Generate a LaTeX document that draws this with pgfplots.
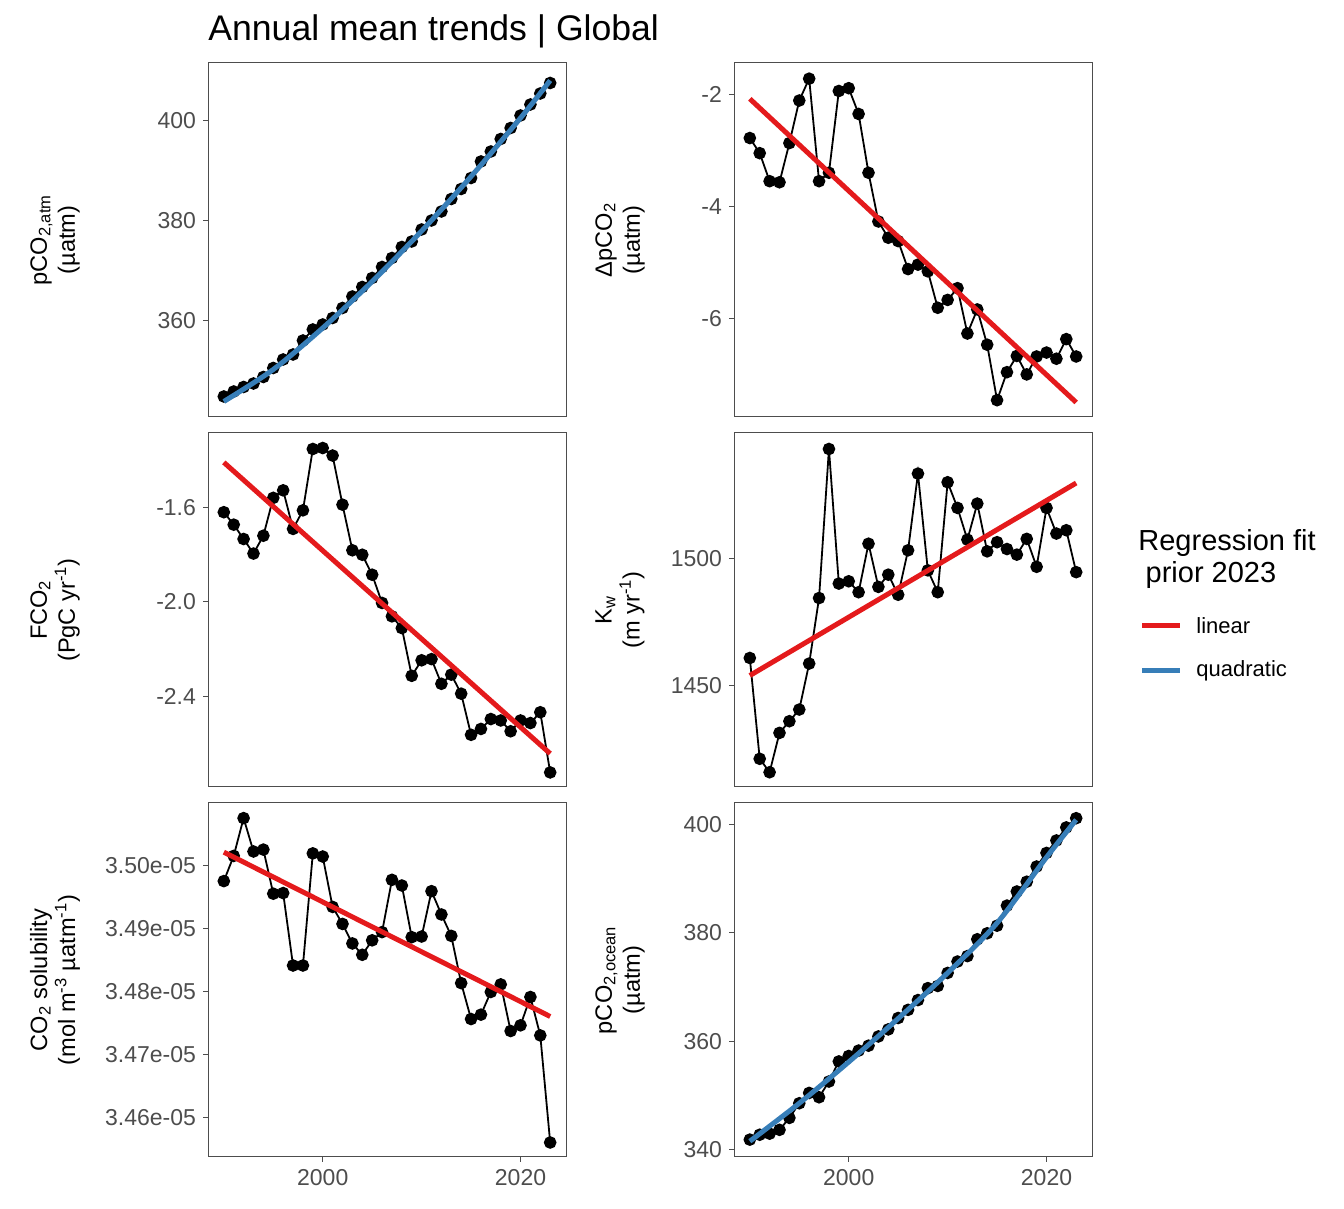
\documentclass[border=0pt]{standalone}
\usepackage{pgfplots}
\pgfplotsset{compat=1.18}
\usepackage{fontspec}
\setmainfont{Liberation Sans}
\definecolor{fitred}{HTML}{E41A1C}
\definecolor{fitblue}{HTML}{377EB8}
\definecolor{axgray}{HTML}{4D4D4D}
\pgfplotsset{panel/.style={scale only axis, width=179pt, height=177pt,
  xmin=1988.4, xmax=2024.6, anchor=north west, clip mode=individual,
  axis line style={axgray, line width=0.5pt},
  tick align=outside, xtick pos=bottom, ytick pos=left,
  tick style={axgray, line width=0.5pt}, major tick length=2.5pt,
  ticklabel style={font=\fontsize{11.5}{13}\selectfont, text=axgray},
  xtick=\empty},
  bottomx/.style={xtick={2000,2020}, xticklabels={2000,2020}},
  obs/.style={black, line width=0.9pt, mark=*, mark size=2.7pt, mark options={solid}},
  lin/.style={fitred, line width=2.5pt, no marks},
  quad/.style={fitblue, line width=2.5pt, no marks, smooth}}
\begin{document}
\begin{tikzpicture}
\path[use as bounding box] (0,0) rectangle (672pt,604.5pt);
\node[anchor=base west, font=\fontsize{17.8}{20}\selectfont, inner sep=0pt] at (104pt,584pt) {Annual mean trends | Global};

% panel 1
\begin{axis}[panel, at={(104pt,573pt)}, ymin=340.8, ymax=411.6,
  ytick={360,380,400}, yticklabels={360,380,400}]
\addplot[obs] coordinates {(1990,344.9)(1991,345.9)(1992,346.8)(1993,347.5)(1994,348.8)(1995,350.6)(1996,352.3)(1997,353.3)(1998,356.1)(1999,358.3)(2000,359.3)(2001,360.6)(2002,362.6)(2003,364.9)(2004,366.8)(2005,368.6)(2006,370.8)(2007,372.6)(2008,374.8)(2009,375.9)(2010,378.3)(2011,380.1)(2012,381.9)(2013,384.4)(2014,386.4)(2015,388.6)(2016,391.9)(2017,393.9)(2018,396.4)(2019,398.6)(2020,401.1)(2021,403.3)(2022,405.5)(2023,407.6)};
\addplot[quad] coordinates {(1990,343.9)(1995,350.3)(2000,358.6)(2005,367.9)(2010,378.0)(2015,388.9)(2020,400.6)(2023,408.1)};
\end{axis}

% panel 2
\begin{axis}[panel, at={(367pt,573pt)}, ymin=-7.75, ymax=-1.43,
  ytick={-6,-4,-2}, yticklabels={-6,-4,-2}]
\addplot[obs] coordinates {(1990,-2.77)(1991,-3.04)(1992,-3.54)(1993,-3.56)(1994,-2.86)(1995,-2.10)(1996,-1.71)(1997,-3.54)(1998,-3.39)(1999,-1.93)(2000,-1.88)(2001,-2.34)(2002,-3.39)(2003,-4.26)(2004,-4.55)(2005,-4.61)(2006,-5.11)(2007,-5.03)(2008,-5.15)(2009,-5.80)(2010,-5.66)(2011,-5.45)(2012,-6.26)(2013,-5.83)(2014,-6.46)(2015,-7.45)(2016,-6.95)(2017,-6.66)(2018,-6.99)(2019,-6.67)(2020,-6.60)(2021,-6.71)(2022,-6.36)(2023,-6.67)};
\addplot[lin] coordinates {(1990,-2.07)(2023,-7.49)};
\end{axis}

% panel 3
\begin{axis}[panel, at={(104pt,388pt)}, ymin=-2.787, ymax=-1.281,
  ytick={-2.4,-2.0,-1.6}, yticklabels={-2.4,-2.0,-1.6}]
\addplot[obs] coordinates {(1990,-1.618)(1991,-1.671)(1992,-1.732)(1993,-1.794)(1994,-1.718)(1995,-1.557)(1996,-1.525)(1997,-1.689)(1998,-1.610)(1999,-1.349)(2000,-1.345)(2001,-1.377)(2002,-1.586)(2003,-1.780)(2004,-1.799)(2005,-1.884)(2006,-2.004)(2007,-2.061)(2008,-2.111)(2009,-2.314)(2010,-2.248)(2011,-2.243)(2012,-2.348)(2013,-2.309)(2014,-2.390)(2015,-2.565)(2016,-2.540)(2017,-2.498)(2018,-2.504)(2019,-2.550)(2020,-2.504)(2021,-2.515)(2022,-2.469)(2023,-2.725)};
\addplot[lin] coordinates {(1990,-1.406)(2023,-2.645)};
\end{axis}

% panel 4
\begin{axis}[panel, at={(367pt,388pt)}, ymin=1410.2, ymax=1549.6,
  ytick={1450,1500}, yticklabels={1450,1500}]
\addplot[obs] coordinates {(1990,1461.0)(1991,1421.3)(1992,1416.0)(1993,1431.5)(1994,1436.1)(1995,1440.7)(1996,1458.8)(1997,1484.6)(1998,1543.3)(1999,1490.3)(2000,1491.2)(2001,1486.9)(2002,1506.0)(2003,1489.0)(2004,1493.8)(2005,1485.9)(2006,1503.4)(2007,1533.6)(2008,1495.5)(2009,1486.9)(2010,1530.2)(2011,1520.1)(2012,1507.6)(2013,1521.8)(2014,1503.0)(2015,1506.6)(2016,1503.9)(2017,1501.7)(2018,1507.9)(2019,1496.9)(2020,1520.1)(2021,1510.0)(2022,1511.3)(2023,1494.8)};
\addplot[lin] coordinates {(1990,1454.1)(2023,1529.9)};
\end{axis}

% panel 5 (values in units of 1e-05)
\begin{axis}[panel, bottomx, at={(104pt,203pt)}, ymin=3.4538, ymax=3.5100,
  ytick={3.46,3.47,3.48,3.49,3.50}, yticklabels={3.46e-05,3.47e-05,3.48e-05,3.49e-05,3.50e-05}]
\addplot[obs] coordinates {(1990,3.4976)(1991,3.5016)(1992,3.5076)(1993,3.5023)(1994,3.5026)(1995,3.4956)(1996,3.4957)(1997,3.4842)(1998,3.4842)(1999,3.5020)(2000,3.5015)(2001,3.4935)(2002,3.4908)(2003,3.4877)(2004,3.4859)(2005,3.4882)(2006,3.4895)(2007,3.4978)(2008,3.4969)(2009,3.4887)(2010,3.4888)(2011,3.4960)(2012,3.4923)(2013,3.4889)(2014,3.4814)(2015,3.4757)(2016,3.4764)(2017,3.4800)(2018,3.4812)(2019,3.4738)(2020,3.4747)(2021,3.4792)(2022,3.4731)(2023,3.4561)};
\addplot[lin] coordinates {(1990,3.5022)(2023,3.4761)};
\end{axis}

% panel 6
\begin{axis}[panel, bottomx, at={(367pt,203pt)}, ymin=338.7, ymax=403.9,
  ytick={340,360,380,400}, yticklabels={340,360,380,400}]
\addplot[obs] coordinates {(1990,341.9)(1991,342.8)(1992,343.0)(1993,343.7)(1994,345.9)(1995,348.6)(1996,350.5)(1997,349.7)(1998,352.6)(1999,356.3)(2000,357.3)(2001,358.3)(2002,359.2)(2003,360.9)(2004,362.2)(2005,364.3)(2006,365.8)(2007,367.6)(2008,369.8)(2009,370.2)(2010,372.6)(2011,374.7)(2012,375.7)(2013,378.8)(2014,379.9)(2015,381.3)(2016,385.0)(2017,387.6)(2018,389.4)(2019,392.2)(2020,394.7)(2021,397.0)(2022,399.4)(2023,401.1)};
\addplot[quad] coordinates {(1990,341.6)(1995,348.6)(2000,356.2)(2005,364.2)(2010,372.6)(2015,381.8)(2020,393.9)(2023,400.8)};
\end{axis}

% y labels
\tikzset{ylab/.style={rotate=90, align=center, font=\fontsize{11.8}{14}\selectfont}}
\node[ylab] at (27.5pt,484.5pt) {pCO\textsubscript{2,atm}\\(µatm)};
\node[ylab] at (310pt,484.5pt) {ΔpCO\textsubscript{2}\\(µatm)};
\node[ylab] at (27.5pt,299.5pt) {FCO\textsubscript{2}\\(PgC yr\textsuperscript{-1})};
\node[ylab] at (310pt,299.5pt) {K\textsubscript{w}\\(m yr\textsuperscript{-1})};
\node[ylab] at (27.5pt,114.5pt) {CO\textsubscript{2} solubility\\(mol m\textsuperscript{-3} µatm\textsuperscript{-1})};
\node[ylab] at (310pt,114.5pt) {pCO\textsubscript{2,ocean}\\(µatm)};

% legend
\node[anchor=north west, align=left, font=\fontsize{14.5}{16}\selectfont, inner sep=0pt] at (569pt,340pt) {Regression fit\\\hspace*{0.25em}prior 2023};
\draw[fitred, line width=2.5pt] (571pt,291.5pt) -- (590pt,291.5pt);
\draw[fitblue, line width=2.5pt] (571pt,269pt) -- (590pt,269pt);
\node[anchor=west, font=\fontsize{11}{13}\selectfont, inner sep=0pt] at (598pt,291.5pt) {linear};
\node[anchor=west, font=\fontsize{11}{13}\selectfont, inner sep=0pt] at (598pt,269pt) {quadratic};
\end{tikzpicture}
\end{document}
